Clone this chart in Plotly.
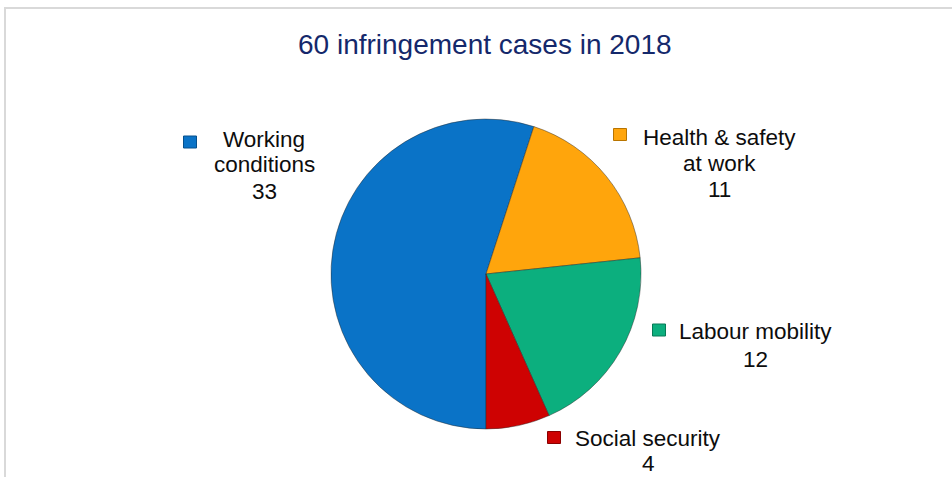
import plotly.graph_objects as go

title_text = "60 infringement cases in 2018"
categories = ["Working conditions", "Health & safety at work", "Labour mobility", "Social security"]
label_lines = [["Working", "conditions"], ["Health & safety", "at work"], ["Labour mobility"], ["Social security"]]
values = [33, 11, 12, 4]
colors = ["#0A73C7", "#FFA50C", "#0CAF7E", "#CE0202"]
edge_colors = ["#06508C", "#B87400", "#077A57", "#8A0000"]

W, H = 952, 477

fig = go.Figure()
fig.add_trace(go.Pie(
    labels=categories,
    values=values,
    sort=False,
    direction="clockwise",
    rotation=180,
    textinfo="none",
    hoverinfo="label+value",
    marker=dict(colors=colors, line=dict(color="rgba(40,40,40,0.45)", width=1)),
    domain=dict(x=[331 / W, 641 / W], y=[1 - 429 / H, 1 - 119 / H]),
    showlegend=False,
))

# label layout: text center x, y centers of each line, marker center (x, y)
label_x = [264, 719, 755, 648]
label_line_y = [[139, 165, 191], [137, 163, 189], [331, 359], [438.5, 463.5]]
marker_xy = [(190, 142), (620, 134.5), (659, 330), (554, 437.5)]
font_size = 22.5
font_family = "Liberation Sans, Arial, sans-serif"

annotations = []
shapes = []
for i, (cat_lines, val) in enumerate(zip(label_lines, values)):
    lines = cat_lines + [str(val)]
    for line, ly in zip(lines, label_line_y[i]):
        annotations.append(dict(
            text=line,
            x=label_x[i] / W, y=1 - ly / H, xref="paper", yref="paper",
            xanchor="center", yanchor="middle", align="center", showarrow=False,
            borderpad=0,
            font=dict(family=font_family, size=font_size, color="#0D0D0D"),
        ))
    mx, my = marker_xy[i]
    s = 6.5
    shapes.append(dict(
        type="rect", xref="paper", yref="paper",
        x0=(mx - s) / W, x1=(mx + s) / W, y0=1 - (my + s - 0.5) / H, y1=1 - (my - s + 0.5) / H,
        fillcolor=colors[i], line=dict(color=edge_colors[i], width=1),
    ))

# outer chart border (top & left visible)
shapes.append(dict(
    type="rect", xref="paper", yref="paper",
    x0=5 / W, x1=1.05, y0=-0.05, y1=1 - 8 / H,
    line=dict(color="#D9D9D9", width=2), fillcolor="rgba(0,0,0,0)", layer="below",
))

annotations.append(dict(
    text=title_text, x=485.5 / W, y=1 - 45 / H, xref="paper", yref="paper",
    xanchor="center", yanchor="middle", showarrow=False,
    font=dict(family=font_family, size=28, color="#14286B"),
))

fig.update_layout(
    width=W, height=H,
    margin=dict(l=0, r=0, t=0, b=0),
    paper_bgcolor="white", plot_bgcolor="white",
    annotations=annotations, shapes=shapes,
)

fig.write_html(
    "out.html",
    config={"displayModeBar": False},
    post_script="document.body.style.margin='0';document.body.style.overflow='hidden';",
)
